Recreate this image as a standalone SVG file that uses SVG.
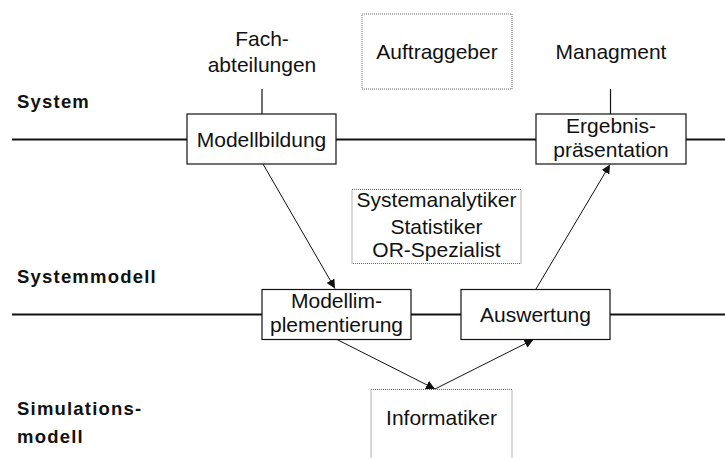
<svg xmlns="http://www.w3.org/2000/svg" width="725" height="458" viewBox="0 0 725 458">
  <style>
    .lbl { font-family: "Liberation Sans", Arial, sans-serif; font-size: 21px; letter-spacing: 0px; fill: #111; text-anchor: middle; }
    .lvl { font-family: "Liberation Sans", Arial, sans-serif; font-size: 18.5px; font-weight: bold; letter-spacing: 1.2px; fill: #111; }
    .box { fill: #fff; stroke: #111; stroke-width: 1.2; }
    .role { fill: #fff; stroke: #666; stroke-width: 1; stroke-dasharray: 1 1; }
    .rail { stroke: #111; stroke-width: 2; fill: none; }
    .tie { stroke: #111; stroke-width: 1.2; fill: none; }
    .flow { stroke: #111; stroke-width: 1; fill: none; marker-end: url(#head); }
  </style>
  <defs>
    <marker id="head" viewBox="0 0 10 10" refX="10" refY="5" markerWidth="9" markerHeight="9" markerUnits="userSpaceOnUse" orient="auto">
      <path d="M0,0 L10,5 L0,10 z" fill="#111"/>
    </marker>
  </defs>

  <rect width="725" height="458" fill="#fff"/>

  <!-- level labels -->
  <g id="levels">
    <text class="lvl" x="17" y="108">System</text>
    <text class="lvl" x="17" y="283">Systemmodell</text>
    <text class="lvl" x="17" y="415">Simulations-</text>
    <text class="lvl" x="17" y="443">modell</text>
  </g>

  <!-- rails and connectors -->
  <g id="connectors">
    <path class="rail" d="M12,139.5 H187 M336,139.5 H536 M686,139.5 H725"/>
    <path class="rail" d="M12,314.5 H262 M411,314.5 H461 M610,314.5 H725"/>
    <path class="tie" d="M262,89 V114"/>
    <path class="tie" d="M610.5,89 V114"/>
    <line class="flow" x1="263" y1="164" x2="335" y2="288.5"/>
    <line class="flow" x1="337" y1="339.5" x2="435" y2="389"/>
    <line class="flow" x1="435" y1="389" x2="533.5" y2="339.5"/>
    <line class="flow" x1="536" y1="289" x2="610" y2="164.5"/>
  </g>

  <g id="fachabteilungen">
    <text class="lbl" x="262" y="46">Fach-</text>
    <text class="lbl" x="262" y="72">abteilungen</text>
  </g>

  <g id="auftraggeber">
    <rect class="role" x="362" y="14" width="150" height="75"/>
    <text class="lbl" x="437" y="59">Auftraggeber</text>
  </g>

  <g id="managment">
    <text class="lbl" x="611" y="59">Managment</text>
  </g>

  <g id="modellbildung">
    <rect class="box" x="187" y="114" width="149" height="50"/>
    <text class="lbl" x="261.5" y="147">Modellbildung</text>
  </g>

  <g id="ergebnispraesentation">
    <rect class="box" x="536" y="114" width="150" height="50"/>
    <text class="lbl" x="611" y="133">Ergebnis-</text>
    <text class="lbl" x="611" y="157">präsentation</text>
  </g>

  <g id="analytiker">
    <rect class="role" x="352" y="189.5" width="169" height="74"/>
    <text class="lbl" x="436.5" y="207">Systemanalytiker</text>
    <text class="lbl" x="436.5" y="234">Statistiker</text>
    <text class="lbl" x="436.5" y="257">OR-Spezialist</text>
  </g>

  <g id="modellimplementierung">
    <rect class="box" x="262" y="289.5" width="149" height="50"/>
    <text class="lbl" x="336.5" y="308">Modellim-</text>
    <text class="lbl" x="336.5" y="332">plementierung</text>
  </g>

  <g id="auswertung">
    <rect class="box" x="461" y="289.5" width="149" height="50"/>
    <text class="lbl" x="535.5" y="322">Auswertung</text>
  </g>

  <g id="informatiker">
    <rect class="role" x="371" y="389.5" width="141" height="80"/>
    <text class="lbl" x="441.5" y="425">Informatiker</text>
  </g>
</svg>
